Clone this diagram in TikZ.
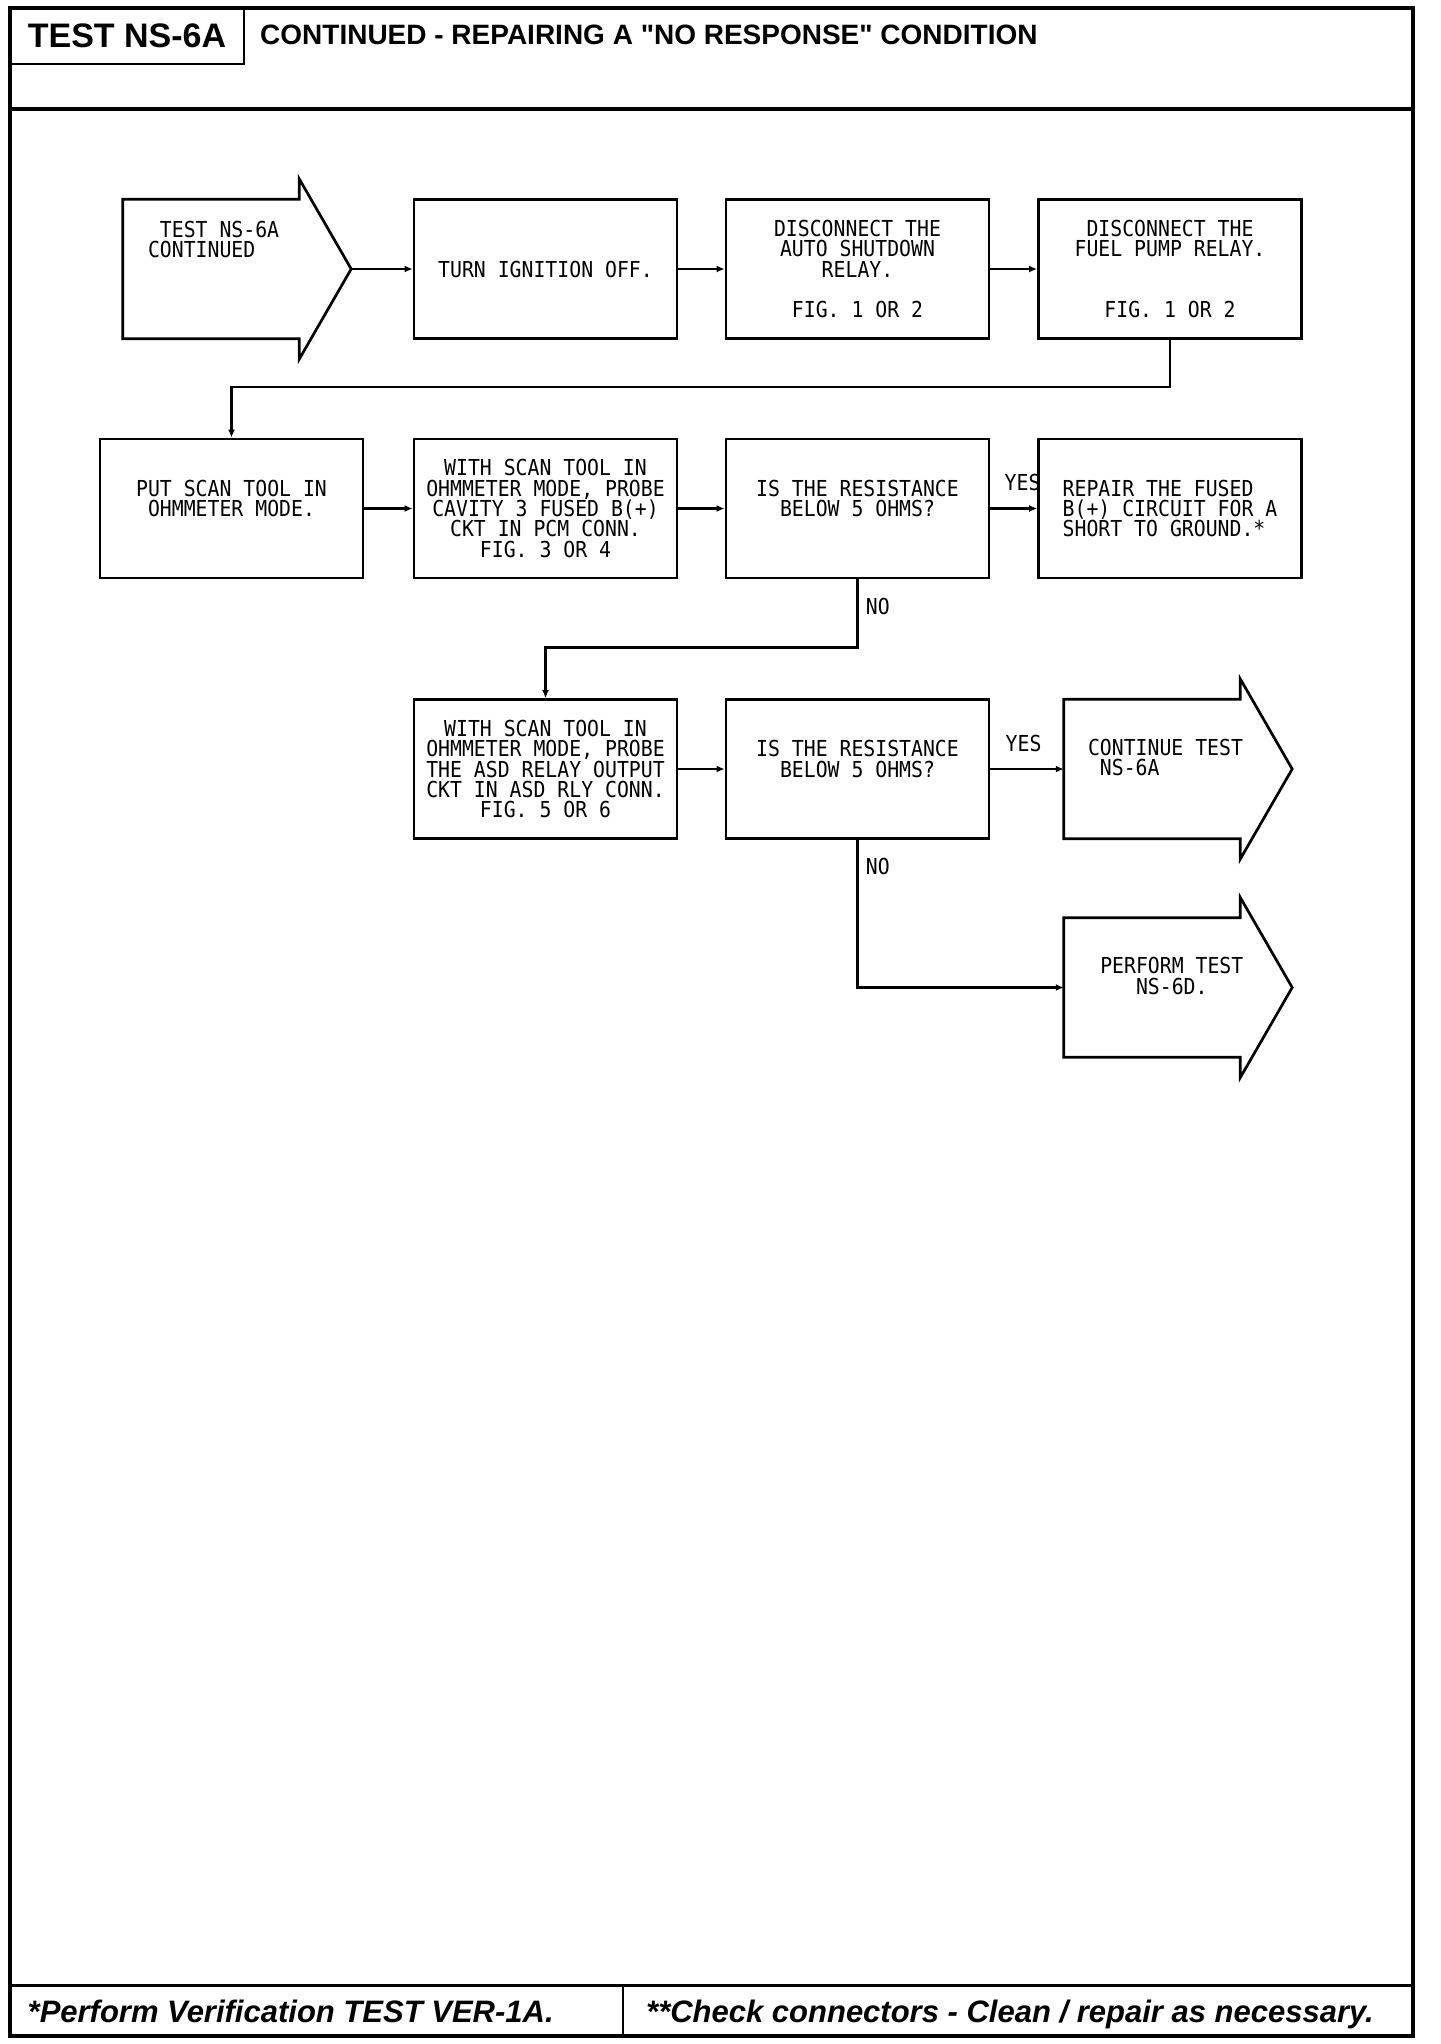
\documentclass[tikz,border=0pt]{standalone}
\usepackage{fontspec}
\usetikzlibrary{arrows.meta,calc}
\setmainfont{Liberation Sans}[Ligatures=TeXOff]
\newfontfamily\plotfont{DejaVu Sans Mono}[FakeStretch=0.9]
\newcommand\headarrow[1]{%
  \draw[line width=2.7pt] (#1.north west) -- (#1.north east) --++(0,-20.5) -- ($(#1.east)+(52,0)$) -- ($(#1.south east)+(0,20.5)$) -- (#1.south east) -- (#1.south west) -- cycle;}
\tikzset{
  >={Latex[length=8pt,width=7pt]},
  stepbox/.style={draw, line width=2.7pt, minimum width=263pt, minimum height=139pt, inner sep=0pt, align=center, font=\plotfont\fontsize{22}{20.3}\selectfont},
  shaft/.style={minimum width=176pt, minimum height=139pt, inner sep=0pt},
  plot/.style={inner sep=0pt, font=\plotfont\fontsize{22}{20.3}\selectfont},
  link/.style={line width=2.7pt, ->},
}
\begin{document}
\begin{tikzpicture}[x=1pt,y=-1pt]
  \useasboundingbox (0,0) rectangle (1440,2044);
  \draw[line width=3.5pt] (10,8) rectangle (1413,2036);
  \draw[line width=4pt] (10,108.7) -- (1413,108.7);
  \draw[line width=3pt] (10,1985) -- (1413,1985);
  \draw[line width=2.5pt] (623,1985) -- (623,2036);
  \node[draw, line width=2.5pt, minimum width=234pt, minimum height=56pt, inner sep=0pt, font=\bfseries\fontsize{34}{36}\selectfont] (testid) at (127,36) {TEST NS-6A};
  \node[anchor=base west, inner sep=0pt, font=\bfseries\fontsize{28}{30}\selectfont] (title) at (260,45) {CONTINUED - REPAIRING A "NO RESPONSE" CONDITION};
  \node[anchor=base west, inner sep=0pt, font=\bfseries\itshape\fontsize{31}{33}\selectfont] (verify) at (27.5,2022) {*Perform Verification TEST VER-1A.};
  \node[anchor=base west, inner sep=0pt, font=\bfseries\itshape\fontsize{31}{33}\selectfont] (check) at (646,2022) {**Check connectors - Clean / repair as necessary.};

  \node[shaft] (start) at (211,269) {};
  \headarrow{start}
  \node[plot, anchor=north west, align=left] (start-text) at ($(start.north west)+(25,21.7)$) {\phantom{T}TEST NS-6A\\CONTINUED};
  \node[stepbox] (turn) at (545.5,269) {TURN IGNITION OFF.};
  \node[stepbox] (asd) at (857.5,269) {DISCONNECT THE\\AUTO SHUTDOWN\\RELAY.\\\mbox{}\\FIG. 1 OR 2};
  \node[stepbox] (fuel) at (1170,269) {DISCONNECT THE\\FUEL PUMP RELAY.\\\mbox{}\\\mbox{}\\FIG. 1 OR 2};

  \node[stepbox] (put) at (231.5,508.5) {PUT SCAN TOOL IN\\OHMMETER MODE.\\\mbox{}};
  \node[stepbox] (cavity) at (545.5,508.5) {WITH SCAN TOOL IN\\OHMMETER MODE, PROBE\\CAVITY 3 FUSED B(+)\\CKT IN PCM CONN.\\FIG. 3 OR 4};
  \node[stepbox] (low1) at (857.5,508.5) {IS THE RESISTANCE\\BELOW 5 OHMS?\\\mbox{}};
  \node[stepbox, align=left] (repair) at (1170,508.5) {REPAIR THE FUSED\\B(+) CIRCUIT FOR A\\SHORT TO GROUND.*};

  \node[stepbox] (asdout) at (545.5,769) {WITH SCAN TOOL IN\\OHMMETER MODE, PROBE\\THE ASD RELAY OUTPUT\\CKT IN ASD RLY CONN.\\FIG. 5 OR 6};
  \node[stepbox] (low2) at (857.5,769) {IS THE RESISTANCE\\BELOW 5 OHMS?\\\mbox{}};
  \node[shaft] (cont) at (1152,769) {};
  \headarrow{cont}
  \node[plot, anchor=north west, align=left] (cont-text) at ($(cont.north west)+(24,39.5)$) {CONTINUE TEST\\\phantom{N}NS-6A};
  \node[shaft] (perform) at (1152,987.5) {};
  \headarrow{perform}
  \node[plot, anchor=north, align=center] (perform-text) at ($(perform.north west)+(108,39.5)$) {PERFORM TEST\\NS-6D.};

  \coordinate (start-tip) at ($(start.east)+(52,0)$);
  \draw[link] (start-tip) -- (turn.west);
  \draw[link] (turn.east) -- (asd.west);
  \draw[link] (asd.east) -- (fuel.west);
  \draw[link] (fuel.south) --++(0,47) -| (put.north);
  \draw[link] (put.east) -- (cavity.west);
  \draw[link] (cavity.east) -- (low1.west);
  \draw[link] (low1.east) -- node[plot, pos=0, anchor=south west, xshift=13pt, yshift=16pt] {YES} (repair.west);
  \draw[link] (low1.south) -- node[plot, pos=0.4, anchor=west, xshift=7pt] {NO} ++(0,68) -| (asdout.north);
  \draw[link] (asdout.east) -- (low2.west);
  \draw[link] (low2.east) -- node[plot, pos=0, anchor=south west, xshift=14pt, yshift=16pt] {YES} (cont.west);
  \draw[link] (low2.south) |- node[plot, pos=0.09, anchor=west, xshift=7pt] {NO} (perform.west);
\end{tikzpicture}
\end{document}
